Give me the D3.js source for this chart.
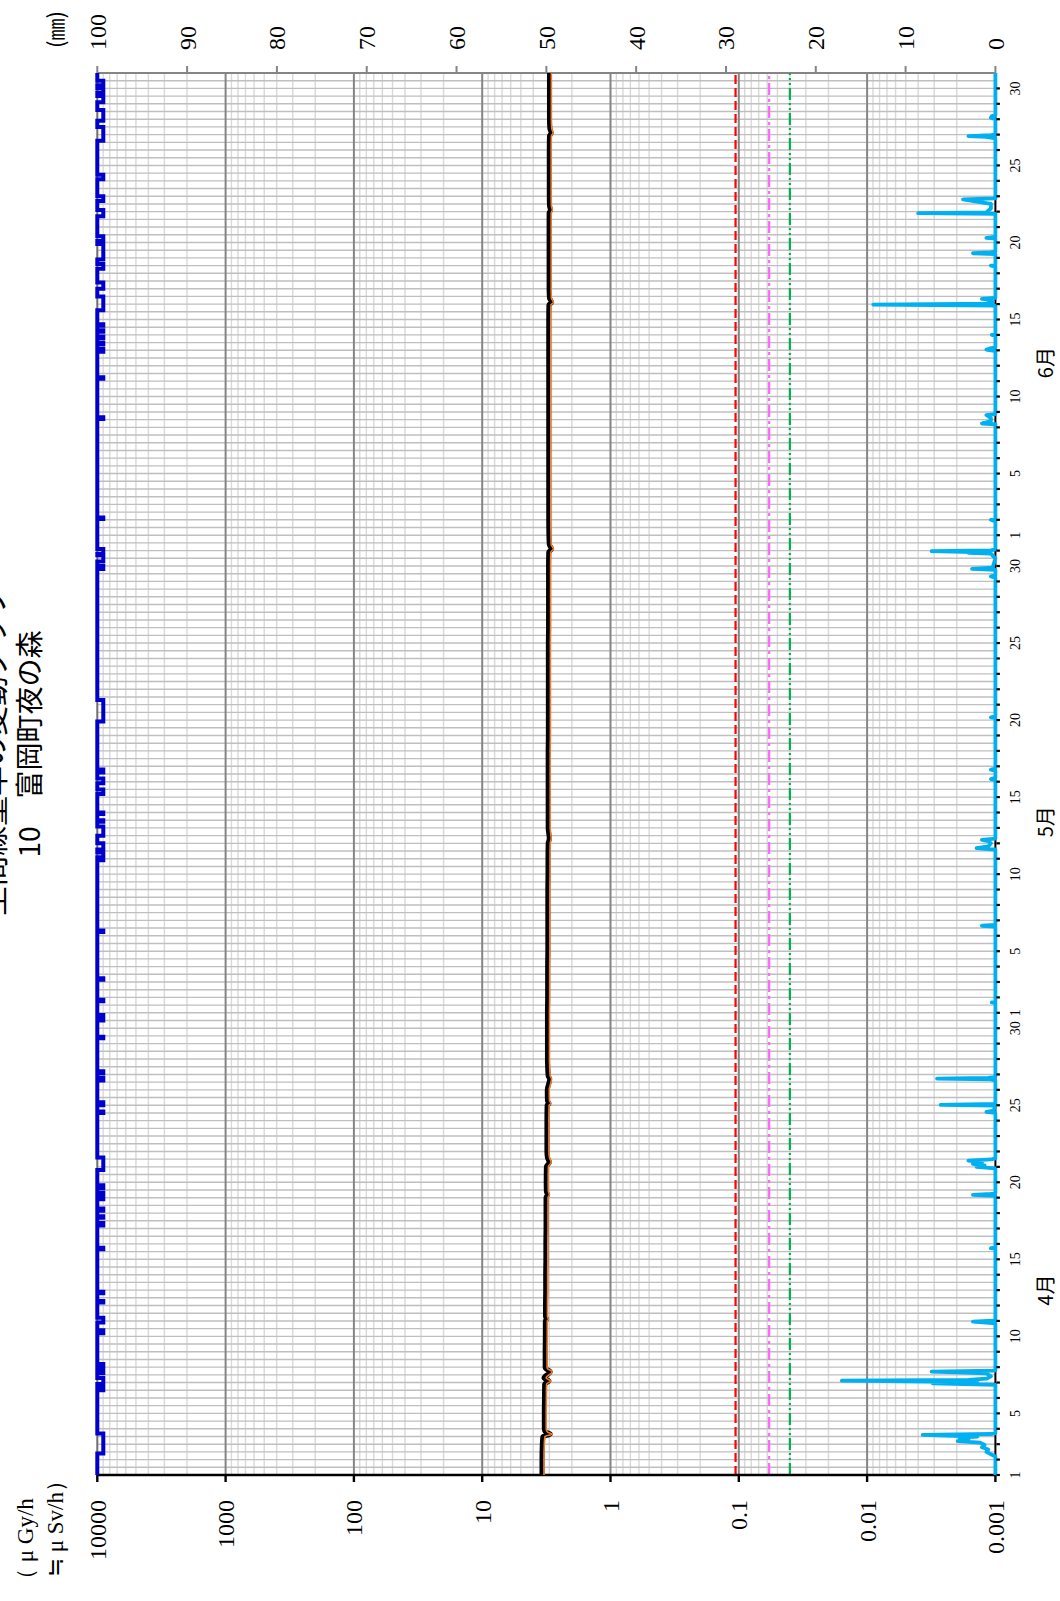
<!DOCTYPE html>
<html>
<head>
<meta charset="utf-8">
<script src="https://cdn.jsdelivr.net/npm/d3@7"></script>
<style>
  body { margin: 0; background: #fff; }
  text { fill: #000; }
</style>
</head>
<body>
<svg id="chart" width="1060" height="1601"></svg>
<script>
// ---- calendar (days counted from 1 April 00:00) ----
const months = ["4月", "5月", "6月"];
const monthLengths = [30, 31, 30];
const dayLabels = [1, 5, 10, 15, 20, 25, 30];

// ---- axis ticks ----
const doseTicks = [0.001, 0.01, 0.1, 1, 10, 100, 1000, 10000];
const doseTickLabels = ["0.001", "0.01", "0.1", "1", "10", "100", "1000", "10000"];
const rainTicks = [0, 10, 20, 30, 40, 50, 60, 70, 80, 90, 100];

// ---- reference levels (μGy/h) ----
const refLevels = [0.106, 0.058, 0.040];

// ---- air dose rate (μGy/h), two detectors ----
const doseDays = [0, 1, 2, 2.5, 2.65, 2.8, 3, 4, 5, 5.9, 6.1, 6.3, 6.7, 6.9, 7, 8, 9, 10, 10.1, 10.3,
  11, 12, 13, 14, 15, 16, 17, 18, 18.2, 18.4, 19, 20, 20.3, 20.6, 21, 22, 23, 24, 24.1, 24.3,
  25, 25.7, 25.9, 26.5, 27, 28, 29, 30, 31, 32, 33, 34, 35, 36, 37, 38, 39, 40, 41, 41.3,
  42, 43, 44, 45, 46, 47, 48, 49, 50, 51, 52, 53, 54, 55, 56, 57, 58, 59, 59.9, 60.1,
  60.4, 61, 62, 63, 64, 65, 66, 67, 68, 69, 70, 71, 72, 73, 74, 75, 75.95, 76.1, 76.4, 77,
  78, 79, 80, 81, 81.9, 82.1, 82.4, 83, 84, 85, 86, 86.9, 87.1, 87.4, 88, 89, 90, 91];
const doseMain = [3.42, 3.42, 3.40, 3.36, 2.95, 3.22, 3.28, 3.28, 3.27, 3.26, 3.02, 3.30, 2.95, 3.20, 3.23, 3.23, 3.22, 3.22, 3.15, 3.21,
  3.21, 3.20, 3.20, 3.19, 3.19, 3.18, 3.18, 3.18, 3.10, 3.16, 3.17, 3.16, 3.00, 3.10, 3.13, 3.13, 3.13, 3.12, 3.02, 3.10,
  3.11, 2.98, 3.06, 3.09, 3.10, 3.10, 3.10, 3.10, 3.09, 3.09, 3.09, 3.08, 3.08, 3.08, 3.08, 3.08, 3.07, 3.07, 3.06, 3.00,
  3.06, 3.06, 3.06, 3.06, 3.06, 3.06, 3.05, 3.05, 3.05, 3.05, 3.05, 3.05, 3.05, 3.04, 3.04, 3.04, 3.04, 3.04, 3.03, 2.88,
  3.00, 3.02, 3.03, 3.03, 3.03, 3.03, 3.03, 3.03, 3.03, 3.03, 3.03, 3.03, 3.03, 3.03, 3.03, 3.03, 3.02, 2.88, 2.99, 3.01,
  3.01, 3.01, 3.01, 3.01, 3.01, 2.94, 2.99, 3.00, 3.00, 3.00, 3.00, 2.99, 2.90, 2.97, 2.99, 2.99, 2.99, 2.99];
const doseSub = [3.30, 3.30, 3.28, 3.24, 2.85, 3.11, 3.17, 3.17, 3.16, 3.15, 2.91, 3.18, 2.85, 3.09, 3.12, 3.12, 3.11, 3.11, 3.04, 3.10,
  3.10, 3.09, 3.09, 3.08, 3.08, 3.07, 3.07, 3.07, 2.99, 3.05, 3.06, 3.05, 2.90, 2.99, 3.02, 3.02, 3.02, 3.01, 2.91, 2.99,
  3.00, 2.88, 2.95, 2.98, 2.99, 2.99, 2.99, 2.99, 2.98, 2.98, 2.98, 2.97, 2.97, 2.97, 2.97, 2.97, 2.96, 2.96, 2.95, 2.90,
  2.95, 2.95, 2.95, 2.95, 2.95, 2.95, 2.94, 2.94, 2.94, 2.94, 2.94, 2.94, 2.94, 2.93, 2.93, 2.93, 2.93, 2.93, 2.92, 2.78,
  2.90, 2.91, 2.92, 2.92, 2.92, 2.92, 2.92, 2.92, 2.92, 2.92, 2.92, 2.92, 2.92, 2.92, 2.92, 2.92, 2.91, 2.78, 2.89, 2.90,
  2.90, 2.90, 2.90, 2.90, 2.90, 2.84, 2.89, 2.90, 2.90, 2.90, 2.90, 2.89, 2.80, 2.87, 2.89, 2.89, 2.89, 2.89];

// ---- rainfall (mm) : [day, mm] ----
const rainfall = [
  [0, 0], [1.2, 0], [1.35, 0.5], [1.5, 1.0], [1.65, 0.8], [1.8, 1.5], [1.95, 1.2], [2.1, 1.7], [2.2, 4.2], [2.3, 3.0],
  [2.42, 4.0], [2.5, 2.0], [2.6, 8.1], [2.66, 0.5], [2.72, 0],
  [5.85, 0], [5.95, 7.0], [6.0, 2.0], [6.05, 5.0], [6.12, 17.1], [6.18, 3.0], [6.25, 1.0], [6.4, 0.5], [6.6, 1.0], [6.71, 7.1], [6.78, 0],
  [9.85, 0], [9.96, 2.5], [10.02, 0.3], [10.06, 0],
  [14.68, 0], [14.72, 0.5], [14.76, 0],
  [18.12, 0], [18.18, 2.5], [18.24, 0.5], [18.3, 0],
  [19.9, 0], [20.0, 2.1], [20.1, 1.2], [20.2, 2.5], [20.3, 1.5], [20.4, 3.0], [20.48, 0.5], [20.55, 0],
  [23.5, 0], [23.57, 1.0], [23.65, 0.2], [23.97, 0], [24.03, 6.1], [24.09, 0],
  [25.6, 0], [25.68, 0.5], [25.73, 6.5], [25.78, 0.8], [25.83, 0],
  [30.62, 0], [30.67, 0.4], [30.72, 0],
  [35.6, 0], [35.65, 1.5], [35.7, 0],
  [40.6, 0], [40.69, 2.1], [40.8, 0.8], [41.0, 0.5], [41.15, 0.8], [41.23, 1.5], [41.3, 0],
  [45.1, 0], [45.17, 0.5], [45.25, 0], [45.7, 0], [45.78, 0.5], [45.85, 0],
  [49.12, 0], [49.18, 0.5], [49.24, 0],
  [58.25, 0], [58.33, 0.5], [58.4, 0], [58.75, 0], [58.81, 2.6], [58.9, 0.3], [59.5, 0], [59.8, 0.5], [59.85, 3.0],
  [59.9, 2.5], [59.96, 7.1], [60.02, 0.5], [60.08, 0],
  [61.9, 0], [62.0, 0.5], [62.08, 0],
  [68.2, 0], [68.25, 1.5], [68.4, 0.5], [68.6, 0.5], [68.8, 1.0], [68.86, 0],
  [72.95, 0], [73.05, 1.0], [73.12, 0.6], [73.2, 0],
  [73.95, 0], [74.0, 0.4], [74.05, 0],
  [75.9, 0], [75.97, 13.6], [76.03, 0.5], [76.15, 0.3], [76.3, 1.0], [76.34, 1.5], [76.4, 0],
  [78.45, 0], [78.5, 0.5], [78.55, 0], [79.25, 0], [79.3, 2.5], [79.36, 0.5], [79.42, 0],
  [80.25, 0], [80.3, 1.0], [80.36, 0],
  [81.85, 0], [81.9, 8.6], [81.96, 1.0], [82.2, 0.5], [82.5, 0.5], [82.8, 3.6], [82.86, 0],
  [86.75, 0], [86.85, 1.0], [86.9, 3.0], [86.96, 0.5], [87.0, 0],
  [88.0, 0], [88.1, 0.5], [88.2, 0.4], [88.25, 0], [91, 0]
];

// ---- rain sensor "on" periods : [start day, end day] ----
const sensorOn = [
  [1.4, 2.7], [5.5, 5.7], [5.9, 6.3], [6.6, 6.8], [7.0, 7.2], [9.2, 9.4], [9.9, 10.2], [11.2, 11.3], [11.8, 11.9],
  [14.65, 14.75], [16.2, 16.35], [16.7, 16.8], [17.15, 17.3], [17.9, 18.0], [18.15, 18.3], [18.6, 18.8], [19.8, 20.6],
  [23.5, 23.6], [24.0, 24.2], [25.6, 25.8], [26.1, 26.2], [28.35, 28.45], [29.5, 29.6], [29.75, 29.85], [30.75, 30.85],
  [32.15, 32.25], [35.25, 35.35], [39.9, 40.0], [40.1, 40.4], [40.6, 41.0], [41.5, 42.1], [42.4, 42.5], [42.9, 43.0],
  [44.2, 44.5], [44.9, 45.2], [45.6, 45.8], [48.9, 50.3], [58.8, 59.0], [59.3, 59.7], [59.8, 60.1], [62.05, 62.15],
  [68.55, 68.65], [71.15, 71.25], [72.9, 73.1], [73.4, 73.5], [73.8, 73.9], [74.2, 74.3], [74.6, 74.7], [75.6, 76.5],
  [77.0, 77.4], [78.3, 78.6], [78.9, 79.9], [80.1, 80.4], [81.7, 82.1], [82.7, 83.0], [84.1, 84.4], [86.6, 87.5],
  [87.9, 88.6], [89.1, 89.5], [89.7, 90.0], [90.2, 90.5]
];

// ---- drawing (landscape frame, turned a quarter to fit the page) ----
const W = 1601, H = 1060;
const plot = { left: 126, right: 1528, top: 97.3, bottom: 995.4 };
const monthLabelOffset = [12, 12.4, 11.2];   // days after month start
const numFont = "'Liberation Serif', 'Times New Roman', serif";
const jpFont = "'Noto Sans CJK JP', sans-serif";

const svg = d3.select("#chart");
const g = svg.append("g").attr("transform", `translate(0,${W}) rotate(-90)`);

const totalDays = d3.sum(monthLengths);
const x = d3.scaleLinear().domain([0, totalDays]).range([plot.left, plot.right]);
const yDose = d3.scaleLog().domain([0.001, 10000]).range([plot.bottom, plot.top]);
const yRain = d3.scaleLinear().domain([0, 100]).range([plot.bottom, plot.top]);
const ySensor = d3.scaleLinear().domain([0, 1]).range([plot.top, plot.top + 6]);

// grid: minor log lines
const minor = [];
for (let e = -3; e < 4; e++) for (let k = 2; k <= 9; k++) minor.push(k * Math.pow(10, e));
g.append("g").selectAll("line").data(minor).join("line")
  .attr("x1", plot.left).attr("x2", plot.right)
  .attr("y1", d => yDose(d)).attr("y2", d => yDose(d))
  .attr("stroke", "#d9d9d9").attr("stroke-width", 1.4);

// grid: half-day lines
const halfDays = d3.range(1, totalDays * 2).map(i => i / 2);
g.append("g").selectAll("line").data(halfDays).join("line")
  .attr("x1", d => x(d)).attr("x2", d => x(d))
  .attr("y1", plot.top).attr("y2", plot.bottom)
  .attr("stroke", "#bfbfbf").attr("stroke-width", 1.4);

// grid: decades
g.append("g").selectAll("line").data(doseTicks.slice(1, -1)).join("line")
  .attr("x1", plot.left).attr("x2", plot.right)
  .attr("y1", d => yDose(d)).attr("y2", d => yDose(d))
  .attr("stroke", "#858585").attr("stroke-width", 2);

// frame (top and right)
g.append("line").attr("x1", plot.left).attr("x2", plot.right).attr("y1", plot.top).attr("y2", plot.top)
  .attr("stroke", "#6e6e6e").attr("stroke-width", 2);
g.append("line").attr("x1", plot.right).attr("x2", plot.right).attr("y1", plot.top).attr("y2", plot.bottom)
  .attr("stroke", "#858585").attr("stroke-width", 2);

// reference levels
const refStyles = [
  { color: "#ff0000", dash: "9,4" },
  { color: "#ff66ff", dash: "12,4,3,4" },
  { color: "#00b050", dash: "12,3,2,3,2,3" }
];
g.append("g").selectAll("line").data(refLevels).join("line")
  .attr("x1", plot.left).attr("x2", plot.right)
  .attr("y1", d => yDose(d)).attr("y2", d => yDose(d))
  .attr("stroke", (d, i) => refStyles[i].color)
  .attr("stroke-dasharray", (d, i) => refStyles[i].dash)
  .attr("stroke-width", 2.2);

// axes lines (left, bottom)
g.append("line").attr("x1", plot.left).attr("x2", plot.left).attr("y1", plot.top).attr("y2", plot.bottom)
  .attr("stroke", "#000").attr("stroke-width", 2.6);
g.append("line").attr("x1", plot.left).attr("x2", plot.right).attr("y1", plot.bottom).attr("y2", plot.bottom)
  .attr("stroke", "#000").attr("stroke-width", 2);

// rainfall
const rainLine = d3.line().x(d => x(d[0])).y(d => yRain(d[1]));
g.append("path").datum(rainfall).attr("d", rainLine)
  .attr("fill", "none").attr("stroke", "#00b0f0").attr("stroke-width", 3.8)
  .attr("stroke-linejoin", "round");

// dose rate
const doseLine = d3.line().x(d => x(d[0])).y(d => yDose(d[1])).curve(d3.curveMonotoneX);
g.append("path").datum(doseDays.map((d, i) => [d, doseMain[i]])).attr("d", doseLine)
  .attr("fill", "none").attr("stroke", "#000").attr("stroke-width", 5).attr("stroke-linejoin", "round");
g.append("path").datum(doseDays.map((d, i) => [d, doseSub[i]])).attr("d", doseLine)
  .attr("fill", "none").attr("stroke", "#ed7d31").attr("stroke-width", 1.6).attr("stroke-linejoin", "round");

// rain sensor (step trace along the top edge)
const sensorPts = [[0, 0]];
sensorOn.forEach(([a, b]) => { sensorPts.push([a, 0], [a, 1], [b, 1], [b, 0]); });
sensorPts.push([totalDays, 0]);
g.append("path").datum(sensorPts)
  .attr("d", d3.line().x(d => x(d[0])).y(d => ySensor(d[1])))
  .attr("fill", "none").attr("stroke", "#0000cc").attr("stroke-width", 4).attr("stroke-linejoin", "miter");

// ticks: dose (left), rain (right)
g.append("g").selectAll("line").data(doseTicks).join("line")
  .attr("x1", plot.left - 7).attr("x2", plot.left)
  .attr("y1", d => yDose(d)).attr("y2", d => yDose(d))
  .attr("stroke", "#000").attr("stroke-width", 2.4);
g.append("g").selectAll("line").data(rainTicks).join("line")
  .attr("x1", plot.right).attr("x2", plot.right + 7)
  .attr("y1", d => yRain(d)).attr("y2", d => yRain(d))
  .attr("stroke", "#858585").attr("stroke-width", 2);

// day ticks along the bottom
const dayTicks = d3.range(0, totalDays);
g.append("g").selectAll("line").data(dayTicks).join("line")
  .attr("x1", d => x(d)).attr("x2", d => x(d))
  .attr("y1", plot.bottom + 1).attr("y2", plot.bottom + 4.5)
  .attr("stroke", "#000").attr("stroke-width", 2.2);

// tick labels
g.append("g").selectAll("text").data(doseTicks).join("text")
  .attr("x", 101).attr("y", d => yDose(d)).attr("dy", "0.35em")
  .attr("text-anchor", "end").attr("font-family", numFont).attr("font-size", 24)
  .text((d, i) => doseTickLabels[i]);
g.append("g").selectAll("text").data(rainTicks).join("text")
  .attr("x", 1551).attr("y", d => yRain(d)).attr("dy", "0.35em")
  .attr("text-anchor", "start").attr("font-family", numFont).attr("font-size", 24)
  .text(d => d);

// day labels and month names
let start = 0;
const dayLabelData = [], monthData = [];
monthLengths.forEach((len, m) => {
  dayLabels.filter(dl => dl <= len).forEach(dl => dayLabelData.push({ pos: start + dl - 1, label: dl }));
  monthData.push({ pos: start + monthLabelOffset[m], label: months[m] });
  start += len;
});
g.append("g").selectAll("text").data(dayLabelData).join("text")
  .attr("x", d => x(d.pos)).attr("y", 1020)
  .attr("text-anchor", "middle").attr("font-family", numFont).attr("font-size", 14)
  .text(d => d.label);
g.append("g").selectAll("text").data(monthData).join("text")
  .attr("x", d => x(d.pos)).attr("y", 1053)
  .attr("text-anchor", "middle").attr("font-family", jpFont).attr("font-size", 20)
  .text(d => d.label);

// units
g.append("text").attr("x", 10).attr("y", 33).attr("font-family", numFont).attr("font-size", 23)
  .attr("xml:space", "preserve").text("（ μ Gy/h");
g.append("text").attr("x", 24).attr("y", 63).attr("font-family", numFont).attr("font-size", 23)
  .attr("xml:space", "preserve").text("≒ μ Sv/h）");
g.append("text").attr("x", 1553).attr("y", 64).attr("font-family", jpFont).attr("font-size", 22)
  .text("(㎜)");

// title
g.append("text").attr("x", 850).attr("y", 4).attr("text-anchor", "middle")
  .attr("font-family", jpFont).attr("font-size", 30)
  .text("空間線量率の変動グラフ");
g.append("text").attr("x", 857).attr("y", 40).attr("text-anchor", "middle")
  .attr("font-family", jpFont).attr("font-size", 28)
  .text("10　富岡町夜の森");
</script>
</body>
</html>
